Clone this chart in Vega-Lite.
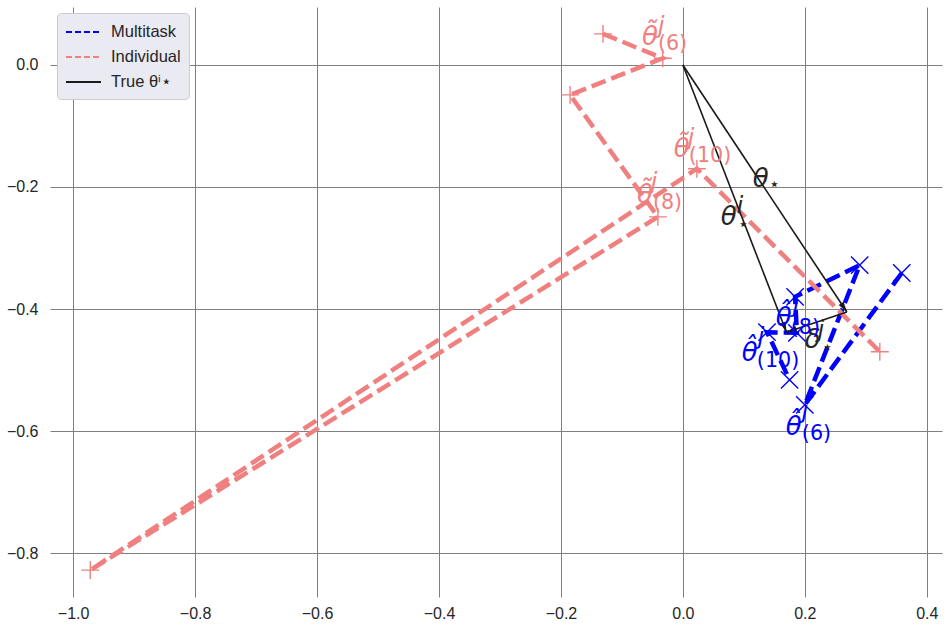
{
  "$schema": "https://vega.github.io/schema/vega-lite/v6.json",
  "width": 892,
  "height": 590,
  "autosize": {"type": "none"},
  "padding": {"left": 50, "top": 7, "right": 7, "bottom": 31},
  "background": "white",
  "config": {
    "view": {"stroke": null},
    "axis": {"grid": true, "gridColor": "#808080", "gridWidth": 1, "domain": false, "ticks": false, "labelFont": "Liberation Sans", "labelFontSize": 16, "labelColor": "#262626", "title": null},
    "axisX": {"labelPadding": 8},
    "axisY": {"labelPadding": 12}
  },
  "datasets": {
    "red": [
      {"step": 5, "x": -0.131, "y": 0.051, "series": "Individual"},
      {"step": 6, "x": -0.033, "y": 0.011, "series": "Individual"},
      {"step": 7, "x": -0.185, "y": -0.049, "series": "Individual"},
      {"step": 8, "x": -0.041, "y": -0.249, "series": "Individual"},
      {"step": 9, "x": -0.972, "y": -0.828, "series": "Individual"},
      {"step": 10, "x": 0.023, "y": -0.170, "series": "Individual"},
      {"step": 11, "x": 0.323, "y": -0.470, "series": "Individual"}
    ],
    "blue": [
      {"step": 5, "x": 0.359, "y": -0.341, "series": "Multitask"},
      {"step": 6, "x": 0.200, "y": -0.557, "series": "Multitask"},
      {"step": 7, "x": 0.290, "y": -0.328, "series": "Multitask"},
      {"step": 8, "x": 0.184, "y": -0.380, "series": "Multitask"},
      {"step": 9, "x": 0.187, "y": -0.439, "series": "Multitask"},
      {"step": 10, "x": 0.138, "y": -0.438, "series": "Multitask"},
      {"step": 11, "x": 0.175, "y": -0.516, "series": "Multitask"}
    ],
    "arrows": [
      {"x": 0, "y": 0, "x2": 0.269, "y2": -0.405, "series": "True θⁱ⋆"},
      {"x": 0, "y": 0, "x2": 0.170, "y2": -0.438, "series": "True θⁱ⋆"},
      {"x": 0.269, "y": -0.405, "x2": 0.170, "y2": -0.438, "series": "True θⁱ⋆"}
    ],
    "labels": [
      {"x": -0.0672, "y": 0.0328, "t": "θ\u0303", "part": "main", "series": "Individual"},
      {"x": -0.041, "y": 0.0525, "t": "j", "part": "sup", "series": "Individual"},
      {"x": -0.041, "y": 0.0246, "t": "(6)", "part": "sub", "series": "Individual"},
      {"x": -0.0148, "y": -0.1508, "t": "θ\u0303", "part": "main", "series": "Individual"},
      {"x": 0.0082, "y": -0.1311, "t": "j", "part": "sup", "series": "Individual"},
      {"x": 0.0098, "y": -0.159, "t": "(10)", "part": "sub", "series": "Individual"},
      {"x": -0.0754, "y": -0.2262, "t": "θ\u0303", "part": "main", "series": "Individual"},
      {"x": -0.0525, "y": -0.2033, "t": "j", "part": "sup", "series": "Individual"},
      {"x": -0.0492, "y": -0.2361, "t": "(8)", "part": "sub", "series": "Individual"},
      {"x": 0.1148, "y": -0.2, "t": "θ", "part": "main", "series": "True"},
      {"x": 0.141, "y": -0.205, "t": "⋆", "part": "star", "series": "True"},
      {"x": 0.0623, "y": -0.2623, "t": "θ", "part": "main", "series": "True"},
      {"x": 0.0885, "y": -0.2426, "t": "i", "part": "sup", "series": "True"},
      {"x": 0.0902, "y": -0.2705, "t": "⋆", "part": "star", "series": "True"},
      {"x": 0.2, "y": -0.4639, "t": "δ", "part": "main", "series": "True"},
      {"x": 0.2213, "y": -0.4459, "t": "j", "part": "sup", "series": "True"},
      {"x": 0.2279, "y": -0.4721, "t": "⋆", "part": "star", "series": "True"},
      {"x": 0.1525, "y": -0.4279, "t": "θ\u0302", "part": "main", "series": "Multitask"},
      {"x": 0.1803, "y": -0.405, "t": "j", "part": "sup", "series": "Multitask"},
      {"x": 0.177, "y": -0.441, "t": "(8)", "part": "sub", "series": "Multitask"},
      {"x": 0.0967, "y": -0.4852, "t": "θ\u0302", "part": "main", "series": "Multitask"},
      {"x": 0.123, "y": -0.457, "t": "j", "part": "sup", "series": "Multitask"},
      {"x": 0.1213, "y": -0.495, "t": "(10)", "part": "sub", "series": "Multitask"},
      {"x": 0.1689, "y": -0.6066, "t": "θ\u0302", "part": "main", "series": "Multitask"},
      {"x": 0.1951, "y": -0.5787, "t": "j", "part": "sup", "series": "Multitask"},
      {"x": 0.1951, "y": -0.6148, "t": "(6)", "part": "sub", "series": "Multitask"}
    ]
  },
  "encoding": {
    "x": {"field": "x", "type": "quantitative", "scale": {"domain": [-1.038, 0.425], "nice": false, "zero": false}, "axis": {"values": [-1, -0.8, -0.6, -0.4, -0.2, 0, 0.2, 0.4], "format": ".1f"}},
    "y": {"field": "y", "type": "quantitative", "scale": {"domain": [-0.872, 0.095], "nice": false, "zero": false}, "axis": {"values": [-0.8, -0.6, -0.4, -0.2, 0], "format": ".1f"}}
  },
  "layer": [
    {
      "data": {"name": "blue"},
      "mark": {"type": "line", "strokeDash": [15, 6], "strokeWidth": 4.5},
      "encoding": {
        "order": {"field": "step", "type": "quantitative"},
        "color": {"field": "series", "type": "nominal",
          "scale": {"domain": ["Multitask", "Individual", "True θⁱ⋆"], "range": ["#0000ff", "#f08080", "#1a1a1a"]},
          "legend": {"title": null, "orient": "none", "legendX": 7, "legendY": 6, "symbolType": "M-1,0L2.5,0", "symbolSize": 400, "symbolStrokeWidth": 1.8, "labelFont": "Liberation Sans", "labelFontSize": 16.5, "labelColor": "#262626", "fillColor": "#EAEAF2", "strokeColor": "#cccccc", "cornerRadius": 4, "padding": 8, "rowPadding": 5, "labelOffset": 24,
            "encode": {"symbols": {"update": {"strokeDash": {"signal": "datum.value === 'Multitask' || datum.value === 'Individual' ? [6, 3] : [1, 0]"}}}}}
        }
      }
    },
    {
      "data": {"name": "red"},
      "mark": {"type": "line", "strokeDash": [15, 6], "strokeWidth": 4.5},
      "encoding": {
        "order": {"field": "step", "type": "quantitative"},
        "color": {"field": "series", "type": "nominal"}
      }
    },
    {
      "data": {"name": "arrows"},
      "mark": {"type": "rule", "strokeWidth": 1.6},
      "encoding": {
        "x2": {"field": "x2"},
        "y2": {"field": "y2"},
        "color": {"field": "series", "type": "nominal"}
      }
    },
    {
      "data": {"name": "arrows"},
      "transform": [{"calculate": "(atan2(datum.x2 - datum.x, datum.y2 - datum.y) * 180 / PI + 360) % 360", "as": "angle"}],
      "mark": {"type": "point", "shape": "M0,0L0.4,1.4L-0.4,1.4Z", "filled": true, "fill": "#1a1a1a", "size": 220, "opacity": 1, "strokeWidth": 0},
      "encoding": {
        "x": {"field": "x2", "type": "quantitative"},
        "y": {"field": "y2", "type": "quantitative"},
        "angle": {"field": "angle", "type": "quantitative", "scale": null}
      }
    },
    {
      "data": {"name": "red"},
      "mark": {"type": "point", "shape": "M-1,0L1,0M0,-1L0,1", "filled": false, "stroke": "#f08080", "strokeWidth": 1.4, "size": 320, "opacity": 1}
    },
    {
      "data": {"name": "blue"},
      "mark": {"type": "point", "shape": "M-1,-1L1,1M-1,1L1,-1", "filled": false, "stroke": "#0000ff", "strokeWidth": 1.4, "size": 300, "opacity": 1}
    },
    {
      "data": {"name": "labels"},
      "transform": [{"filter": "datum.part === 'main' || datum.part === 'sup'"}],
      "mark": {"type": "text", "align": "left", "baseline": "alphabetic", "font": "DejaVu Sans", "fontStyle": "italic"},
      "encoding": {
        "text": {"field": "t"},
        "size": {"field": "part", "type": "ordinal", "scale": {"domain": ["main", "sup", "sub", "star"], "range": [26, 18, 18, 13]}, "legend": null},
        "fill": {"field": "series", "type": "nominal", "scale": {"domain": ["Multitask", "Individual", "True"], "range": ["#0000ff", "#f08080", "#262626"]}, "legend": null}
      }
    },
    {
      "data": {"name": "labels"},
      "transform": [{"filter": "datum.part === 'sub' || datum.part === 'star'"}],
      "mark": {"type": "text", "align": "left", "baseline": "alphabetic", "font": "DejaVu Sans"},
      "encoding": {
        "text": {"field": "t"},
        "size": {"field": "part", "type": "ordinal", "scale": {"domain": ["main", "sup", "sub", "star"], "range": [26, 18, 18, 13]}, "legend": null},
        "fill": {"field": "series", "type": "nominal", "scale": {"domain": ["Multitask", "Individual", "True"], "range": ["#0000ff", "#f08080", "#262626"]}, "legend": null}
      }
    }
  ]
}
